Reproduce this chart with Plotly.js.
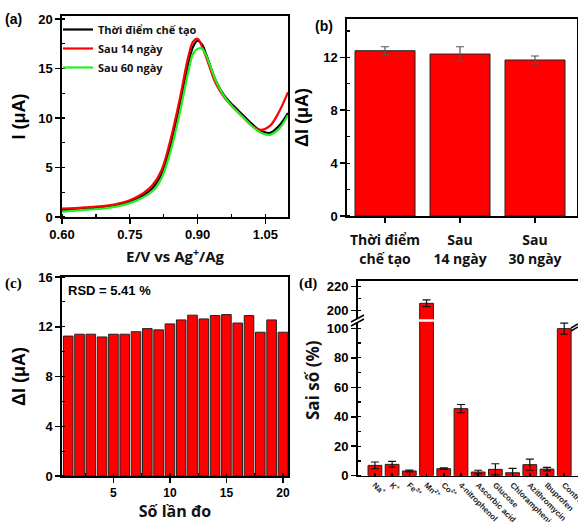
<!DOCTYPE html>
<html><head><meta charset="utf-8">
<script src="https://cdn.plot.ly/plotly-3.0.1.min.js"></script>
<style>html,body{margin:0;padding:0;background:#fff;overflow:hidden;} #chart{width:578px;height:522px;}</style>
</head><body><div id="chart"></div>
<script>
// ---------- (a) DPV curves ----------
const potential = [0.60,0.63,0.66,0.69,0.72,0.75,0.78,0.80,0.82,0.84,0.86,0.88,0.89,0.90,0.91,0.92,0.94,0.96,0.98,1.00,1.02,1.04,1.06,1.08,1.10];
const currentInitial = [0.70,0.80,0.90,1.00,1.20,1.55,2.2,2.9,4.3,7.2,11.2,15.6,17.2,17.8,17.4,16.3,13.8,12.2,11.2,10.3,9.4,8.7,8.5,9.2,10.5];
const current14 = [0.85,0.90,1.0,1.1,1.30,1.70,2.4,3.2,4.7,7.8,11.8,16.3,17.7,18.0,17.2,16.0,13.5,12.0,11.0,10.1,9.2,8.8,9.2,10.6,12.6];
const current60 = [0.55,0.65,0.75,0.85,1.05,1.40,2.0,2.6,3.9,6.6,10.4,14.8,16.5,17.0,17.0,16.2,13.8,12.1,11.0,10.1,9.2,8.5,8.3,8.9,10.3];
const legendNames = ['Thời điểm chế tạo','Sau 14 ngày','Sau 60 ngày'];
const potentialTicks = [0.60,0.75,0.90,1.05];
// ---------- (b) storage stability ----------
const stabilityLabels = ['Thời điểm<br>chế tạo','Sau<br>14 ngày','Sau<br>30 ngày'];
const stabilityValues = [12.5, 12.25, 11.8];
const stabilityErrors = [0.3, 0.55, 0.3];
// ---------- (c) repeatability ----------
const measurementNo = [1,2,3,4,5,6,7,8,9,10,11,12,13,14,15,16,17,18,19,20];
const repeatValues = [11.25,11.4,11.4,11.18,11.4,11.4,11.6,11.85,11.75,12.23,12.55,12.93,12.63,12.9,12.98,12.3,12.9,11.56,12.55,11.56];
// ---------- (d) interference ----------
const interferents = ['Na<sup>+</sup>','K<sup>+</sup>','Fe<sup>3+</sup>','Mn<sup>2+</sup>','Co<sup>2+</sup>','4-nitrophenol','Ascorbic acid','Glucose','Chloramphenicol','Azithromycin','Ibuprofen','Control'];
const errorPercent = [7.0,7.7,3.2,206.1,4.75,45.5,2.5,4.3,2.0,7.5,4.5,99.8];
const errorPercentSd = [2.3,2.0,0.6,2.8,0.5,2.8,1.2,3.8,3.0,3.8,1.2,3.7];

const W = 578, H = 522;
const px = v => v / W, py = v => 1 - v / H;
const BOLD = 'bold';
const tickFont = {family:'Arial, "Liberation Sans", sans-serif', size:13, color:'#000', weight:BOLD};
const titleFont = {family:'Arial, "Liberation Sans", sans-serif', size:18, color:'#000', weight:BOLD};
const openFont = {family:'"Open Sans", sans-serif', size:15, color:'#111', weight:BOLD};
const RED = '#ff0000';

function axis(extra) {
  return Object.assign({
    showline:true, linecolor:'#000', linewidth:1.6, mirror:true,
    ticks:'outside', ticklen:5, tickwidth:1.5, tickcolor:'#000',
    showgrid:false, zeroline:false, tickfont:tickFont, automargin:false
  }, extra);
}
function minor(d) { return {dtick:d, ticks:'inside', ticklen:3, tickwidth:1.2, tickcolor:'#000', showgrid:false}; }

const traces = [];
const lineColors = ['#000000', RED, '#22ee22'];
[currentInitial, current14, current60].forEach((ys, i) => {
  traces.push({type:'scatter', mode:'lines', x:potential, y:ys, name:legendNames[i],
    line:{color:lineColors[i], width:2.2, shape:'spline', smoothing:1}, xaxis:'x', yaxis:'y'});
});
traces.push({type:'bar', x:stabilityLabels, y:stabilityValues, width:0.8, showlegend:false,
  marker:{color:RED, line:{color:'#222', width:1}},
  error_y:{type:'data', array:stabilityErrors, color:'#555', thickness:1.2, width:4},
  xaxis:'x2', yaxis:'y2'});
traces.push({type:'bar', x:measurementNo, y:repeatValues, width:0.85, showlegend:false,
  marker:{color:RED, line:{color:'#222', width:1}}, xaxis:'x3', yaxis:'y3'});
['y4','y5'].forEach((ya) => {
  traces.push({type:'bar', x:interferents, y:errorPercent, width:0.8, showlegend:false,
    marker:{color:RED, line:{color:'#222', width:1}},
    error_y:{type:'data', array:errorPercentSd, color:'#111', thickness:1.2, width:4},
    xaxis: ya === 'y4' ? 'x4' : 'x5', yaxis:ya, cliponaxis:true});
});

const layout = {
  width:W, height:H, margin:{l:0,r:0,t:0,b:0}, paper_bgcolor:'#fff', plot_bgcolor:'#fff',
  showlegend:true, bargap:0,
  legend:{x:px(58), y:py(15), xanchor:'left', yanchor:'top', bgcolor:'rgba(0,0,0,0)',
    font:{family:'"Open Sans", sans-serif', size:11, color:'#111', weight:BOLD}, tracegroupgap:0, itemwidth:30},
  // (a)
  xaxis: axis({domain:[px(62), px(288)], range:[0.60, 1.10], anchor:'y', tickvals:potentialTicks, tickformat:'.2f',
    minor:minor(0.075), title:{text:'E/V vs Ag<sup>+</sup>/Ag', font:openFont, standoff:10}}),
  yaxis: axis({domain:[py(217), py(16)], range:[0, 20.3], anchor:'x', dtick:5, minor:minor(2.5),
    title:{text:'I (μA)', font:titleFont, standoff:8}}),
  // (b)
  xaxis2: axis({domain:[px(347), px(577)], range:[-0.507, 2.56], anchor:'y2', type:'category', ticklabelstandoff:6,
    tickfont:{family:'"Open Sans", sans-serif', size:14, color:'#111', weight:BOLD}}),
  yaxis2: axis({domain:[py(216), py(19)], range:[0, 14.9], anchor:'x2', dtick:4, minor:minor(2),
    title:{text:'ΔI (μA)', font:titleFont, standoff:10}}),
  // (c)
  xaxis3: axis({domain:[px(62), px(288)], range:[0.45, 20.45], anchor:'y3', tickvals:[5,10,15,20],
    minor:minor(2.5), tickfont:Object.assign({}, tickFont, {size:12}),
    title:{text:'Số lần đo', font:Object.assign({}, openFont, {size:16}), standoff:13}}),
  yaxis3: axis({domain:[py(476), py(277)], range:[0, 16], anchor:'x3', dtick:4, minor:minor(2),
    title:{text:'ΔI (μA)', font:titleFont, standoff:8}}),
  // (d) lower
  xaxis4: axis({domain:[px(357.7), 1], range:[-1, 11.8], anchor:'y4', type:'category', mirror:false,
    ticks:'inside', ticklen:3, tickangle:45,
    tickfont:{family:'Arial, "Liberation Sans", sans-serif', size:8, color:'#222', weight:BOLD}}),
  yaxis4: axis({domain:[py(475.7), py(321.7)], range:[0, 104.5], anchor:'x4', tickvals:[0,20,40,60,80,100], minor:minor(10)}),
  // (d) upper
  xaxis5: axis({domain:[px(357.7), 1], range:[-1, 11.8], anchor:'y5', type:'category', side:'top', mirror:false,
    showticklabels:false, ticks:''}),
  yaxis5: axis({domain:[py(319.3), py(281)], range:[192.8, 224.7], anchor:'x5', tickvals:[200,220], minor:minor(10)}),
  annotations: [
    {text:'(a)', x:px(3), y:py(19), xref:'paper', yref:'paper', xanchor:'left', yanchor:'middle', showarrow:false,
      font:{family:'Arial, "Liberation Sans", sans-serif', size:14, color:'#000', weight:BOLD}},
    {text:'(b)', x:px(313), y:py(26), xref:'paper', yref:'paper', xanchor:'left', yanchor:'middle', showarrow:false,
      font:{family:'Arial, "Liberation Sans", sans-serif', size:14, color:'#000', weight:BOLD}},
    {text:'(c)', x:px(3), y:py(283), xref:'paper', yref:'paper', xanchor:'left', yanchor:'middle', showarrow:false,
      font:{family:'"Liberation Serif", serif', size:15, color:'#000', weight:BOLD}},
    {text:'(d)', x:px(297), y:py(283), xref:'paper', yref:'paper', xanchor:'left', yanchor:'middle', showarrow:false,
      font:{family:'"Liberation Serif", serif', size:15, color:'#000', weight:BOLD}},
    {text:'RSD = 5.41 %', x:px(66), y:py(290), xref:'paper', yref:'paper', xanchor:'left', yanchor:'middle', showarrow:false,
      font:{family:'Arial, "Liberation Sans", sans-serif', size:13, color:'#000', weight:BOLD}},
    {text:'Sai số (%)', x:px(312), y:py(380), xref:'paper', yref:'paper', xanchor:'center', yanchor:'middle', showarrow:false,
      textangle:-90, font:{family:'"Open Sans", sans-serif', size:17, color:'#111', weight:BOLD}}
  ],
  shapes: [
    {type:'line', xref:'paper', yref:'paper', x0:px(351), y0:py(322), x1:px(364), y1:py(315), line:{color:'#000', width:1.5}},
    {type:'line', xref:'paper', yref:'paper', x0:px(351), y0:py(326), x1:px(364), y1:py(319), line:{color:'#000', width:1.5}},
    {type:'line', xref:'paper', yref:'paper', x0:px(571), y0:py(328), x1:px(578), y1:py(324), line:{color:'#000', width:1.5}},
    {type:'line', xref:'paper', yref:'paper', x0:px(571), y0:py(331), x1:px(578), y1:py(327), line:{color:'#000', width:1.5}}
  ]
};
Plotly.newPlot('chart', traces, layout, {staticPlot:true, displayModeBar:false});
</script></body></html>
